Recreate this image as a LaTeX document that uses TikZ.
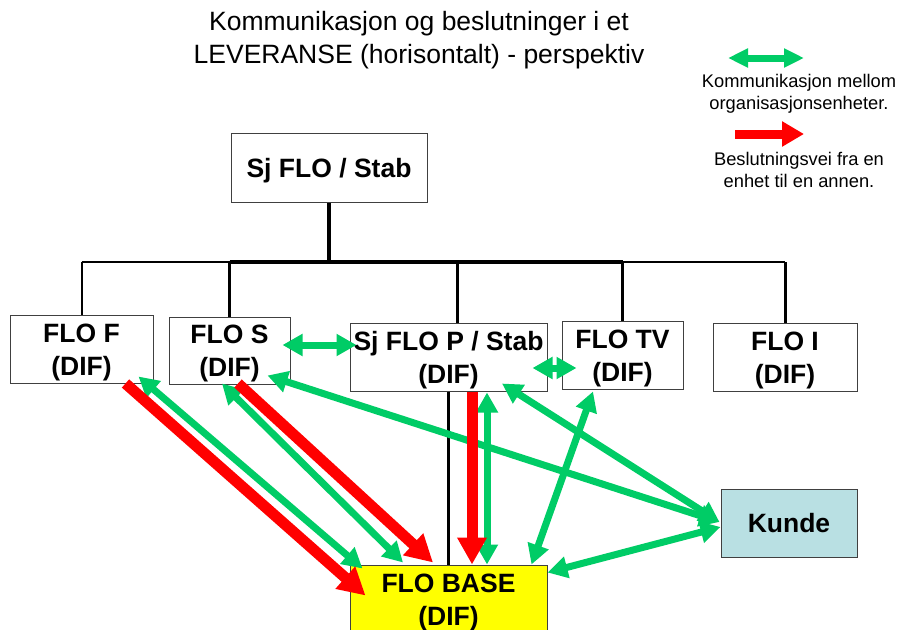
\documentclass[tikz,border=0pt]{standalone}
\usepackage{fontspec}
\setmainfont{Liberation Sans}
\usetikzlibrary{arrows.meta,calc}

\definecolor{commgreen}{RGB}{0,204,102}
\definecolor{decred}{RGB}{255,0,0}
\definecolor{baseyellow}{RGB}{255,255,0}
\definecolor{kundeblue}{RGB}{185,224,227}
\definecolor{boxline}{RGB}{64,64,64}

\tikzset{
  unit/.style={draw=boxline, line width=1pt, fill=white, align=center,
    inner sep=0pt, text height=19pt, text depth=0pt,
    font=\bfseries\fontsize{26.5}{33}\selectfont},
  % two text lines: cap height of the first line plus one line step
  twoline/.style={text height=52pt},
  orgline/.style={draw=black, line width=3pt},
  comm/.style={draw=commgreen, line width=7pt,
    {Triangle[length=20pt,width=21pt]}-{Triangle[length=20pt,width=21pt]}},
  decision/.style={draw=decred, line width=11pt,
    -{Triangle[length=27pt,width=28pt]}},
  legendtext/.style={align=center, font=\fontsize{18.3}{21.5}\selectfont},
}

\begin{document}
\begin{tikzpicture}[x=1pt,y=-1pt]
  \useasboundingbox (0,0) rectangle (899,629);
  \fill[white] (0,0) rectangle (899,629);

  % title
  \node[align=center, font=\fontsize{26.5}{33}\selectfont] (title) at (419,40)
    {Kommunikasjon og beslutninger i et\\LEVERANSE (horisontalt) - perspektiv};

  % organisation units
  \node[unit, minimum width=196pt, minimum height=69pt] (top) at (329,167.5) {Sj FLO / Stab};
  \node[unit, twoline, minimum width=143pt, minimum height=68pt] (ff) at (81.5,349) {FLO F\\(DIF)};
  \node[unit, twoline, minimum width=121pt, minimum height=67pt] (fs) at (229.5,350.5) {FLO S\\(DIF)};
  \node[unit, twoline, minimum width=197pt, minimum height=68pt] (fp) at (448.5,357) {Sj FLO P / Stab\\(DIF)};
  \node[unit, twoline, minimum width=121pt, minimum height=68pt] (ftv) at (622.5,355) {FLO TV\\(DIF)};
  \node[unit, twoline, minimum width=144pt, minimum height=68pt] (fi) at (785,357) {FLO I\\(DIF)};
  \node[unit, fill=kundeblue, minimum width=136pt, minimum height=68pt] (ku) at (789,523) {Kunde};
  \node[unit, twoline, fill=baseyellow, minimum width=197pt, minimum height=68pt] (base) at (448.5,599) {FLO BASE\\(DIF)};

  % organisation tree
  \coordinate (bus) at (329,262);
  \coordinate (fpdrop) at ($(fp.north)+(8.5,0)$);
  \draw[orgline, line width=3.5pt] (top.south) -- (bus);
  \draw[orgline, line width=2pt] (ff.north |- bus) -- (fs.north |- bus);
  \draw[orgline, line width=3.5pt] (fs.north |- bus) -- (ftv.north |- bus);
  \draw[orgline, line width=2.5pt] (ftv.north |- bus) -- (fi.north |- bus);
  \draw[orgline, line width=2pt] (ff.north |- bus) -- (ff.north);
  \draw[orgline] (fs.north |- bus) -- (fs.north);
  \draw[orgline] (fpdrop |- bus) -- (fpdrop);
  \draw[orgline] (ftv.north |- bus) -- (ftv.north);
  \draw[orgline] (fi.north |- bus) -- (fi.north);
  \draw[orgline] (fp.south) -- (base.north);

  % communication between units
  \draw[comm] ($(ff.south east)+(-15,-7)$) -- ($(base.north west)+(13,4)$);
  \draw[comm] ($(fs.south)+(-7.5,-1)$) -- ($(base.north)+(-45.5,-2)$);
  \draw[comm] ($(fs.east)+(-8,-5.5)$) -- ($(fp.west)+(7,-12)$);
  \draw[comm] ($(fp.east)+(-15,11)$) -- ($(ftv.west)+(15,13)$);
  \draw[comm] ($(fs.south east)+(-23,-9)$) -- ($(ku.west)+(-1,-1)$);
  \draw[comm] ($(fp.south)+(53.5,-8)$) -- ($(ku.west)+(-1,-1)$);
  \draw[comm] ($(fp.south)+(38.5,1)$) -- ($(base.north)+(38.5,0)$);
  \draw[comm] ($(ftv.south)+(-29.5,2)$) -- ($(base.north east)+(-16,0)$);
  \draw[comm] ($(ku.west)+(0,4)$) -- ($(base.north east)+(0,8)$);

  % decision paths
  \draw[decision] ($(ff.south east)+(-28,0)$) -- ($(base.north west)+(16,31)$);
  \draw[decision] ($(fs.south)+(8.5,-1)$) -- ($(base.north)+(-15.5,-2)$);
  \draw[decision] ($(fp.south)+(23.5,0)$) -- ($(base.north)+(23.5,0)$);

  % legend
  \coordinate (lgA) at (728,58);
  \coordinate (lgB) at (804,58);
  \draw[comm, line width=7pt, {Triangle[length=20pt,width=18pt]}-{Triangle[length=20pt,width=18pt]}] (lgA) -- (lgB);
  \node[legendtext] (lgcomm) at (799,94) {Kommunikasjon mellom\\organisasjonsenheter.};
  \coordinate (lgC) at (735,134);
  \coordinate (lgD) at (804,134);
  \draw[decision, line width=9pt, -{Triangle[length=22pt,width=24pt]}] (lgC) -- (lgD);
  \node[legendtext] (lgdec) at (799,170) {Beslutningsvei fra en\\enhet til en annen.};
\end{tikzpicture}
\end{document}
